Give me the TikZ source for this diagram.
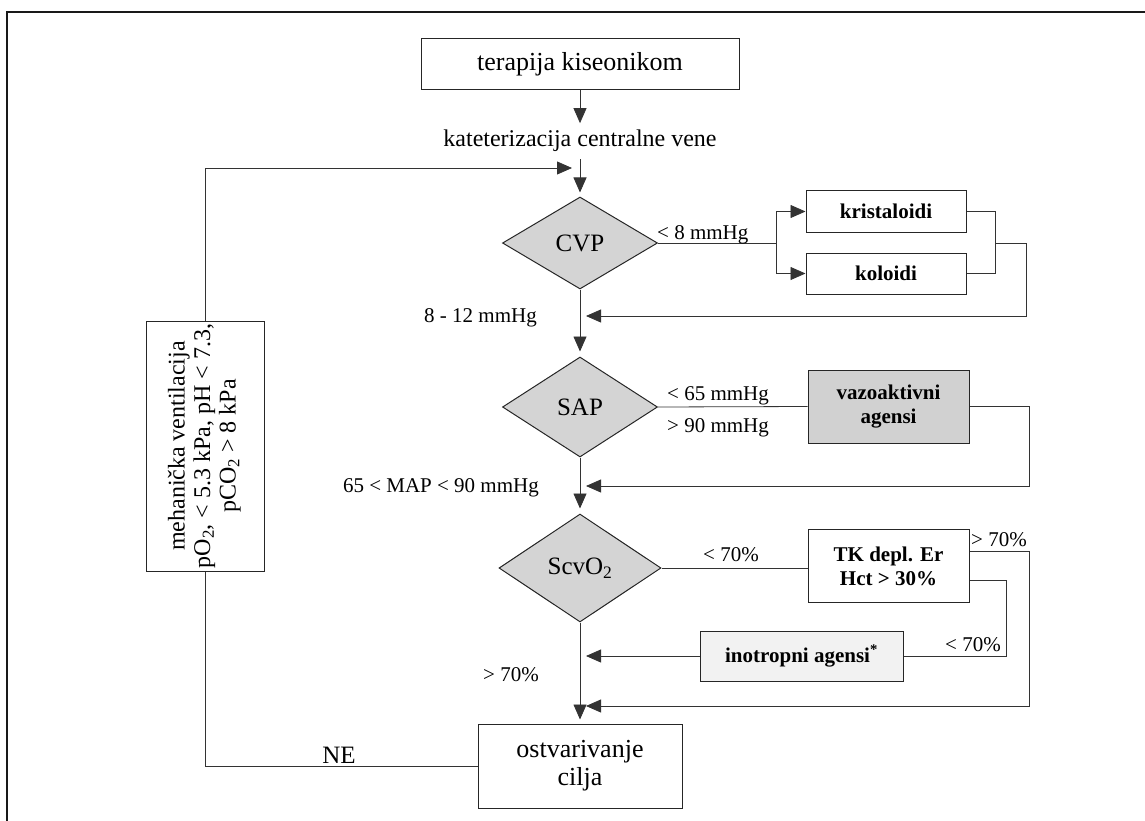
\documentclass[tikz,border=0pt]{standalone}
\usepackage{fontspec}
\setmainfont{Liberation Serif}
\usetikzlibrary{shapes.geometric,arrows.meta}

\tikzset{
  line/.style={draw=black!80, line width=0.8pt},
  arr/.style={line, -{Triangle[length=15pt,width=13pt]}},
  box/.style={draw=black!85, line width=1pt, inner sep=0pt, align=center,
    font=\fontsize{26}{28}\selectfont},
  bbox/.style={box, font=\fontsize{21}{24}\selectfont\bfseries},
  dec/.style={diamond, draw=black!85, fill=black!17, line width=1pt,
    inner sep=0pt, font=\fontsize{25}{28}\selectfont},
  lbl/.style={inner sep=0pt, font=\fontsize{21}{24}\selectfont},
}

\begin{document}
\begin{tikzpicture}[x=1pt,y=-1pt]
	\useasboundingbox (0,0) rectangle (1145,821);
	\draw[line width=1.2pt, black!90] (7,821) -- (7,12) -- (1145,12);
	
	% main column
	\node[box, minimum width=318pt, minimum height=51pt] (start) at (580,64.5) {terapija kiseonikom};
	\node[lbl, font=\fontsize{24}{26}\selectfont, inner ysep=7pt, anchor=base] (kat) at (580,147) {kateterizacija centralne vene};
	\node[dec, minimum width=155pt, minimum height=92pt] (cvp) at (580,243) {CVP};
	\node[dec, minimum width=155pt, minimum height=100pt] (sap) at (580,407) {SAP};
	\node[dec, minimum width=162pt, minimum height=108pt] (scv) at (580,568) {ScvO\textsubscript{2}};
	\node[box, minimum width=204pt, minimum height=84pt] (goal) at (580,766) {ostvarivanje\\cilja};
	
	\draw[arr] (start.south) -- (kat.north);
	\draw[arr, shorten >=4pt] (kat.south) -- (cvp.north);
	\draw[arr, shorten >=5pt] (cvp.south) -- (sap.north);
	\draw[arr, shorten >=5pt] (sap.south) -- (scv.north);
	\draw[arr, shorten >=4pt] (scv.south) -- (goal.north);
	
	\coordinate (ax) at (586,0);
	\coordinate (ret1) at (586,316);
	\coordinate (ret2) at (586,486);
	\coordinate (ret3) at (586,706);
	
	% CVP
	\node[bbox, minimum width=160pt, minimum height=41pt] (kris) at (886,211.5) {kristaloidi};
	\node[bbox, minimum width=160pt, minimum height=41pt] (kol) at (886,273.5) {koloidi};
	\coordinate (br) at (776,243);
	\coordinate (mrg) at (995,243);
	\draw[line] (cvp.east) -- (br);
	\draw[arr] (br) |- (kris.west);
	\draw[arr] (br) |- (kol.west);
	\draw[line] (kris.east) -| (mrg) |- (kol.east);
	\draw[arr] (mrg) -- ++(31,0) |- (ret1);
	\node[lbl, anchor=base west] (lt8) at (657,239) {< 8 mmHg};
	\node[lbl, anchor=base east] (ok1) at (537,322) {8 - 12 mmHg};
	
	% SAP
	\node[bbox, fill=black!18, minimum width=161pt, minimum height=73pt] (vaz) at (888.5,406.5) {vazoaktivni\\agensi};
	\draw[line] (sap.east) -- (vaz.west);
	\draw[arr] (vaz.east) -- ++(60,0) |- (ret2);
	\node[lbl, anchor=base west] (lt65) at (667,400) {< 65 mmHg};
	\node[lbl, anchor=base west] (gt90) at (667,432) {> 90 mmHg};
	\node[lbl, anchor=base east] (ok2) at (539,492) {65 < MAP < 90 mmHg};
	
	% ScvO2
	\node[bbox, fill=white, minimum width=161pt, minimum height=73pt] (tk) at (888.5,566) {TK depl. Er\\Hct > 30\%};
	\node[bbox, fill=black!5, minimum width=203pt, minimum height=50pt] (ino) at (801.5,656) {inotropni agensi\textsuperscript{*}};
	\draw[line] (scv.east) -- (tk.west |- scv.east);
	\draw[arr] (tk.east) ++(0,-15) -- ++(60,0) |- (ret3);
	\draw[line] (tk.east) ++(0,14) -- ++(37,0) |- (ino.east);
	\draw[arr] (ino.west) -- (ino.west -| ax);
	\node[lbl, anchor=base west] (lt70) at (703,561) {< 70\%};
	\node[lbl, anchor=base west] (gt70a) at (971,546) {> 70\%};
	\node[lbl, anchor=base east] (lt70b) at (1001,651) {< 70\%};
	\node[lbl, anchor=base east] (ok3) at (539,681) {> 70\%};
	
	% ventilation loop
	\node[box, minimum width=118pt, minimum height=250pt, font=\fontsize{24}{25.5}\selectfont] (mv) at (205,446)
		{\rotatebox{90}{\begin{tabular}{@{}c@{}}mehanička ventilacija\\ pO\textsubscript{2}, < 5.3 kPa, pH < 7.3,\\ pCO\textsubscript{2} > 8 kPa\end{tabular}}};
	\coordinate (lj) at (572,168);
	\draw[line] (goal.west) -| (mv.south);
	\draw[arr] (mv.north) |- (lj);
	\node[lbl, font=\fontsize{25}{28}\selectfont, anchor=base] (ne) at (339,763) {NE};
\end{tikzpicture}
\end{document}
